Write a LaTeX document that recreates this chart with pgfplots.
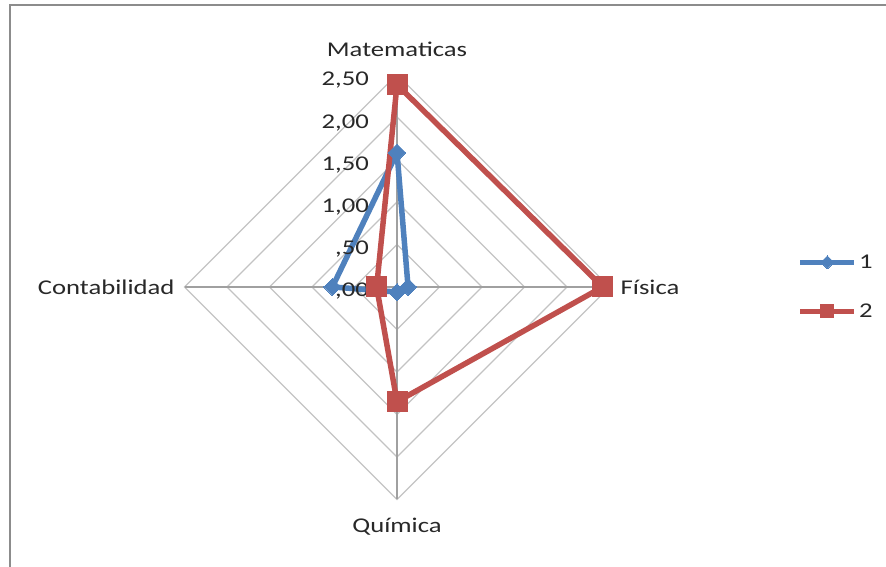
\documentclass[border=0pt]{standalone}
\usepackage{fontspec}
\setmainfont{Carlito}[FakeStretch=1.27]
\usepackage{pgfplots}
\pgfplotsset{compat=1.18}
\usepackage{pgfplotstable}

\definecolor{serA}{RGB}{79,129,189}
\definecolor{serB}{RGB}{192,80,77}
\definecolor{rejilla}{RGB}{195,195,195}
\definecolor{eje}{RGB}{160,160,160}
\definecolor{marco}{RGB}{140,140,140}
\definecolor{texto}{RGB}{40,40,40}

% angulo (grados) y valores de cada serie; la primera fila se repite para cerrar
\pgfplotstableread{
ang s1 s2
90  1.58 2.38
0   0.13 2.42
270 0.06 1.35
180 0.76 0.24
90  1.58 2.38
}\notas

\begin{document}
\begin{tikzpicture}[font=\fontsize{21}{25}\selectfont, text=texto]
\begin{axis}[
    x=85pt, y=85pt,
    xmin=-4.671, xmax=5.753,
    ymin=-3.294, ymax=3.376,
    hide axis, clip=false,
    legend style={at={(0.9,0.494)}, anchor=west, draw=none, fill=none,
        font=\fontsize{21}{25}\selectfont, text=texto, row sep=30pt, inner sep=0pt},
    legend cell align={left},
    legend image code/.code={\draw[mark repeat=2,mark phase=2,#1,mark size=6.5pt]
        plot coordinates {(0pt,0pt) (27pt,0pt) (54pt,0pt)};},
]
% marco
\draw[marco, line width=2.5pt] (axis cs:-4.553,-3.4) -- (axis cs:-4.553,3.318) -- (axis cs:5.8,3.318);

% rejilla (rombos cada 0,5)
\addplot[rejilla, line width=1.2pt, forget plot] coordinates {(0,0.5) (0.5,0) (0,-0.5) (-0.5,0) (0,0.5)};
\addplot[rejilla, line width=1.2pt, forget plot] coordinates {(0,1.0) (1.0,0) (0,-1.0) (-1.0,0) (0,1.0)};
\addplot[rejilla, line width=1.2pt, forget plot] coordinates {(0,1.5) (1.5,0) (0,-1.5) (-1.5,0) (0,1.5)};
\addplot[rejilla, line width=1.2pt, forget plot] coordinates {(0,2.0) (2.0,0) (0,-2.0) (-2.0,0) (0,2.0)};
\addplot[rejilla, line width=1.2pt, forget plot] coordinates {(0,2.5) (2.5,0) (0,-2.5) (-2.5,0) (0,2.5)};
\addplot[eje, line width=1.2pt, forget plot] coordinates {(0,-2.5) (0,2.5)};
\addplot[eje, line width=1.2pt, forget plot] coordinates {(-2.5,0) (2.5,0)};

% series
\addplot[serA, line width=5.5pt, line join=round, mark=diamond*, mark size=8.5pt,
    mark options={fill=serA, draw=serA, line width=0pt, xscale=1.33}]
    table[x expr={\thisrow{s1}*cos(\thisrow{ang})}, y expr={\thisrow{s1}*sin(\thisrow{ang})}] {\notas};
\addlegendentry{1}
\addplot[serB, line width=5.5pt, line join=round, mark=square*, mark size=10pt,
    mark options={fill=serB, draw=serB, line width=0pt}]
    table[x expr={\thisrow{s2}*cos(\thisrow{ang})}, y expr={\thisrow{s2}*sin(\thisrow{ang})}] {\notas};
\addlegendentry{2}

% etiquetas del eje radial
\node[anchor=base east] at (axis cs:-0.29,2.365) {2,50};
\node[anchor=base east] at (axis cs:-0.29,1.870) {2,00};
\node[anchor=base east] at (axis cs:-0.29,1.375) {1,50};
\node[anchor=base east] at (axis cs:-0.29,0.880) {1,00};
\node[anchor=base east] at (axis cs:-0.29,0.385) {,50};
\node[anchor=base east] at (axis cs:-0.29,-0.110) {,00};

% categorias
\node[anchor=base] at (axis cs:0,2.706) {Matematicas};
\node[anchor=base west] at (axis cs:2.59,-0.085) {Física};
\node[anchor=base] at (axis cs:0,-2.894) {Química};
\node[anchor=base east] at (axis cs:-2.576,-0.085) {Contabilidad};
\end{axis}
\pgfresetboundingbox
\path[use as bounding box] (current axis.south west) rectangle (current axis.north east);
\end{tikzpicture}
\end{document}
